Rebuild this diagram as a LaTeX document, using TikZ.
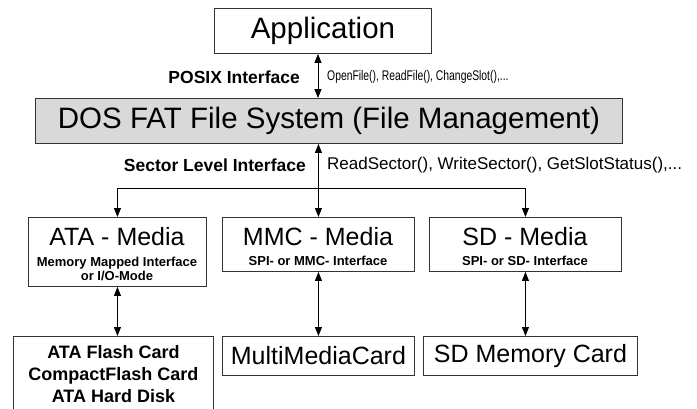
\documentclass[tikz,border=0pt]{standalone}
\usepackage{fontspec}
\setmainfont{Liberation Sans}
\newfontfamily\narrowsans[FakeStretch=0.74]{Liberation Sans}
\usetikzlibrary{arrows.meta}
\begin{document}
\begin{tikzpicture}[x=1pt,y=-1pt,
  box/.style={draw=black!80, line width=0.9pt, inner sep=0pt, anchor=north west},
  conn/.style={line width=0.8pt, -{Triangle[length=9pt,width=7pt]}},
  both/.style={line width=0.8pt, {Triangle[length=9pt,width=7pt]}-{Triangle[length=9pt,width=7pt]}},
  big/.style={font=\fontsize{29.5}{31}\selectfont},
  mid/.style={font=\fontsize{25}{27}\selectfont, inner sep=0pt},
  sub/.style={font=\fontsize{13}{14}\selectfont\bfseries, inner sep=0pt, align=center},
  card/.style={font=\fontsize{18}{22}\selectfont\bfseries, align=center},
  lbl/.style={font=\fontsize{17.5}{19}\selectfont\bfseries, inner sep=0pt},
  fn/.style={font=\fontsize{17}{19}\selectfont, inner sep=0pt},
  fnsmall/.style={font=\narrowsans\fontsize{14}{16}\selectfont, inner sep=0pt},
]
\useasboundingbox (0,0) rectangle (697,408);

\node[box, big, minimum width=217pt, minimum height=45pt] (app) at (214,8) {Application};
\node[box, big, fill=gray!30, minimum width=587pt, minimum height=45pt] (dos) at (35,98) {DOS FAT File System (File Management)};

\node[box, minimum width=178pt, minimum height=69pt] (ata) at (28,217) {};
\node[box, minimum width=192pt, minimum height=54pt] (mmc) at (222,217) {};
\node[box, minimum width=192pt, minimum height=54pt] (sd) at (429,217) {};

\node[mid] (atat) at (117,237) {ATA - Media};
\node[sub] (atas) at (117,269) {Memory Mapped Interface\\or I/O-Mode};
\node[mid] (mmct) at (318,237) {MMC - Media};
\node[sub] (mmcs) at (318,261) {SPI- or MMC- Interface};
\node[mid] (sdt) at (525,237) {SD - Media};
\node[sub] (sds) at (525,261) {SPI- or SD- Interface};

\node[box, card, minimum width=200pt, minimum height=76pt] (flash) at (13,336) {ATA Flash Card\\CompactFlash Card\\ATA Hard Disk};
\node[box, font=\fontsize{25}{27}\selectfont, minimum width=192pt, minimum height=39pt] (mmccard) at (222,336) {MultiMediaCard};
\node[box, font=\fontsize{25}{27}\selectfont, minimum width=214pt, minimum height=39pt] (sdcard) at (423,336) {SD Memory Card};

\coordinate (axis) at (318,0);
\coordinate (branch) at (318,188);

\draw[both] (app.south -| axis) -- (dos.north -| axis);
\draw[both] (dos.south -| mmc.north) -- (mmc.north);
\draw[conn] (branch) -| (ata.north);
\draw[conn] (branch) -| (sd.north);
\draw[both] (ata.south) -- (flash.north -| ata.south);
\draw[both] (mmc.south) -- (mmccard.north);
\draw[both] (sd.south) -- (sdcard.north -| sd.south);

\node[lbl, anchor=east] (posix) at (300,77) {POSIX Interface};
\node[fnsmall, anchor=west] (posixfn) at (327,77) {OpenFile(), ReadFile(), ChangeSlot(),...};
\node[lbl, anchor=east] (sli) at (306,165) {Sector Level Interface};
\node[fn, anchor=west] (slifn) at (327,165) {ReadSector(), WriteSector(), GetSlotStatus(),...};
\end{tikzpicture}
\end{document}
